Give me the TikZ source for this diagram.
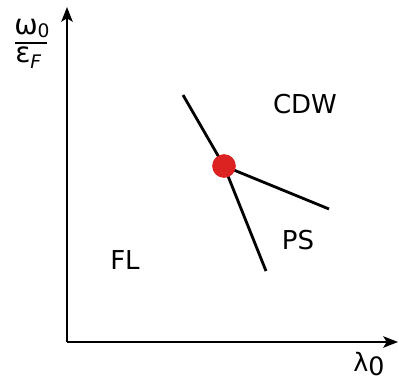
\documentclass[tikz,border=0pt]{standalone}
\usepackage{fontspec}
\setmainfont{DejaVu Sans}
\usetikzlibrary{arrows.meta}
\definecolor{dotred}{HTML}{DD2222}
\tikzset{
  axis/.style={line width=1.8pt,-{Stealth[length=11pt,width=8.5pt,inset=2.5pt]}},
  border/.style={line width=2.1pt},
  lbl/.style={font=\fontsize{19.5}{21}\selectfont, inner sep=0pt},
  reddot/.style={circle, fill=dotred, minimum size=17.5pt, inner sep=0pt},
}
\begin{document}
\begin{tikzpicture}[x=0.75pt,y=-0.75pt]
\useasboundingbox (0,0) rectangle (399,381);
\coordinate (o) at (67,342);
\coordinate (ytip) at (67,7);
\coordinate (xtip) at (398,342);
\draw[axis] (o) -- (ytip);
\draw[axis] (o) -- (xtip);
\coordinate (top) at (183,95);
\coordinate (bot) at (266,271);
\coordinate (right) at (329,209);
\node[reddot] (dot) at (224,166) {};
\draw[border] (top) -- (dot.center);
\draw[border] (dot.center) -- (bot);
\draw[border] (dot.center) -- (right);
\node[reddot] at (dot) {};
\node[lbl] (cdw) at (305,104) {CDW};
\node[lbl] (ps) at (298,240) {PS};
\node[lbl] (fl) at (125,260) {FL};
\node[lbl, font=\fontsize{19}{21}\selectfont, anchor=base west] (lam) at (353,371) {λ\raisebox{-3.5pt}{0}};
\node[lbl, font=\fontsize{21}{23}\selectfont, anchor=base west] (num) at (14,35) {ω\raisebox{-2pt}{\fontsize{14}{15}\selectfont 0}};
\node[lbl, font=\fontsize{21}{23}\selectfont, anchor=base west] (den) at (15,63) {ε\raisebox{-4pt}{\fontsize{14}{15}\selectfont\itshape F}};
\draw[line width=1.6pt] (15,43) -- (47,43);
\end{tikzpicture}
\end{document}
